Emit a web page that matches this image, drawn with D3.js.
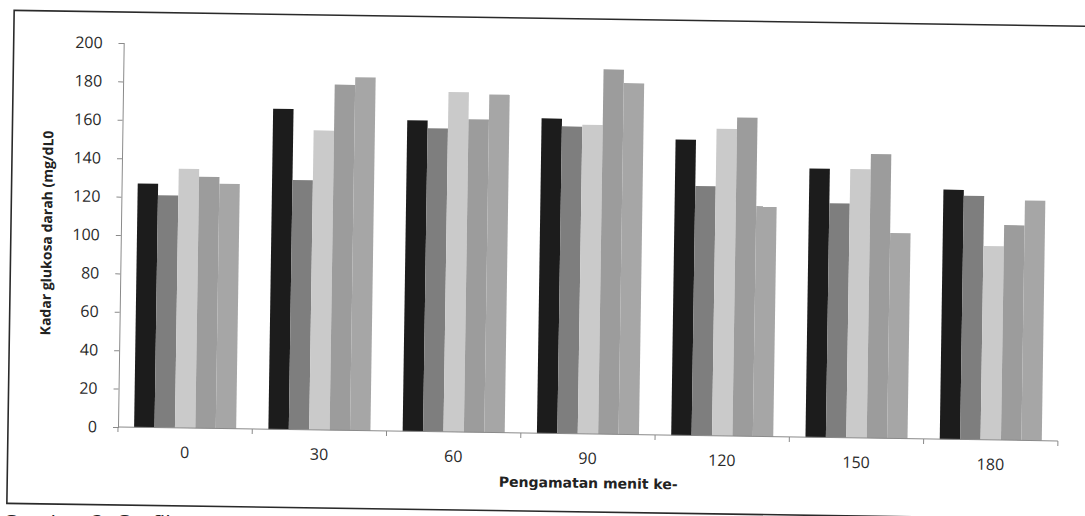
<!DOCTYPE html>
<html>
<head>
<meta charset="utf-8">
<script src="https://cdn.jsdelivr.net/npm/d3@7"></script>
<style>
  body { margin: 0; background: #fff; }
  svg { display: block; }
</style>
</head>
<body>
<div id="container"></div>
<script>
var width = 1085,
    height = 516;

// data
var groups = ["0", "30", "60", "90", "120", "150", "180"];
var seriesNames = ["s1", "s2", "s3", "s4", "s5"];
var s1 = [127, 167, 162, 164, 154, 140, 130];
var s2 = [121, 130, 158, 160, 130, 122, 127];
var s3 = [135, 156, 177, 161, 160, 140, 101];
var s4 = [131, 180, 163, 190, 166, 148, 112];
var s5 = [127.5, 184, 176, 183, 120, 107, 125];
var yTicks = [0, 20, 40, 60, 80, 100, 120, 140, 160, 180, 200];
var colors = ["#1c1c1c", "#7e7e7e", "#cacaca", "#9c9c9c", "#a6a6a6"];

var allSeries = [s1, s2, s3, s4, s5];
var data = groups.map((g, i) => ({
    group: g,
    values: allSeries.map((s, j) => ({ key: seriesNames[j], value: s[i] }))
}));

var plotLeft = 118, plotRight = 1058, plotTop = 43, plotBottom = 427;

var svg = d3.select("#container").append("svg")
    .attr("width", width)
    .attr("height", height);

// the scan is slightly tilted
var g = svg.append("g")
    .attr("transform", "rotate(0.85," + plotLeft + "," + plotBottom + ")");

// outer frame
g.append("rect")
    .attr("x", 8)
    .attr("y", 12)
    .attr("width", 1100)
    .attr("height", 493)
    .attr("fill", "none")
    .attr("stroke", "#2a2a2a")
    .attr("stroke-width", 1.6);

var x0 = d3.scaleBand()
    .domain(groups)
    .range([plotLeft, plotRight])
    .paddingInner(0.24)
    .paddingOuter(0.12);

var x1 = d3.scaleBand()
    .domain(seriesNames)
    .range([0, x0.bandwidth()]);

var y = d3.scaleLinear()
    .domain([0, 200])
    .range([plotBottom, plotTop]);

// bars
g.selectAll(".grp")
    .data(data)
    .enter().append("g")
    .attr("class", "grp")
    .attr("transform", d => "translate(" + x0(d.group) + ",0)")
    .selectAll("rect")
    .data(d => d.values)
    .enter().append("rect")
    .attr("x", d => x1(d.key))
    .attr("y", d => y(d.value))
    .attr("width", x1.bandwidth())
    .attr("height", d => y(0) - y(d.value))
    .attr("fill", (d, i) => colors[i]);

// y axis
var yAxis = g.append("g")
    .attr("transform", "translate(" + plotLeft + ",0)")
    .call(d3.axisLeft(y).tickValues(yTicks).tickSize(5).tickPadding(16));
yAxis.select(".domain").attr("stroke", "#8a8a8a");
yAxis.selectAll(".tick line").attr("stroke", "#8a8a8a");
yAxis.selectAll("text")
    .attr("fill", "#2a2a2a")
    .style("font-family", "'Open Sans', sans-serif")
    .style("font-size", "16px");

// x axis: line with ticks at band boundaries
var step = x0.step();
g.append("line")
    .attr("x1", plotLeft).attr("x2", plotRight)
    .attr("y1", plotBottom).attr("y2", plotBottom)
    .attr("stroke", "#8a8a8a");
g.selectAll(".xtick")
    .data(d3.range(groups.length + 1))
    .enter().append("line")
    .attr("class", "xtick")
    .attr("x1", i => plotLeft + i * step)
    .attr("x2", i => plotLeft + i * step)
    .attr("y1", plotBottom)
    .attr("y2", plotBottom + 5)
    .attr("stroke", "#8a8a8a");
g.selectAll(".xlab")
    .data(groups)
    .enter().append("text")
    .attr("class", "xlab")
    .attr("x", d => x0(d) + x0.bandwidth() / 2)
    .attr("y", plotBottom + 30)
    .attr("text-anchor", "middle")
    .attr("fill", "#2a2a2a")
    .style("font-family", "'Open Sans', sans-serif")
    .style("font-size", "16px")
    .text(d => d);

// axis titles
g.append("text")
    .attr("x", 589)
    .attr("y", 481)
    .attr("text-anchor", "middle")
    .attr("fill", "#222")
    .style("font-family", "'DejaVu Sans', sans-serif")
    .style("font-weight", "bold")
    .style("font-size", "14px")
    .text("Pengamatan menit ke-");

g.append("text")
    .attr("transform", "translate(49,234) rotate(-90)")
    .attr("text-anchor", "middle")
    .attr("fill", "#222")
    .style("font-family", "'Open Sans', sans-serif")
    .style("font-weight", "bold")
    .style("font-size", "14px")
    .text("Kadar glukosa darah (mg/dL0");

// caption, cut off by the bottom edge
svg.append("text")
    .attr("x", 2)
    .attr("y", 531)
    .attr("fill", "#222")
    .style("font-family", "'Open Sans', sans-serif")
    .style("font-size", "22px")
    .text("Gambar 3. Grafik");
</script>
</body>
</html>
